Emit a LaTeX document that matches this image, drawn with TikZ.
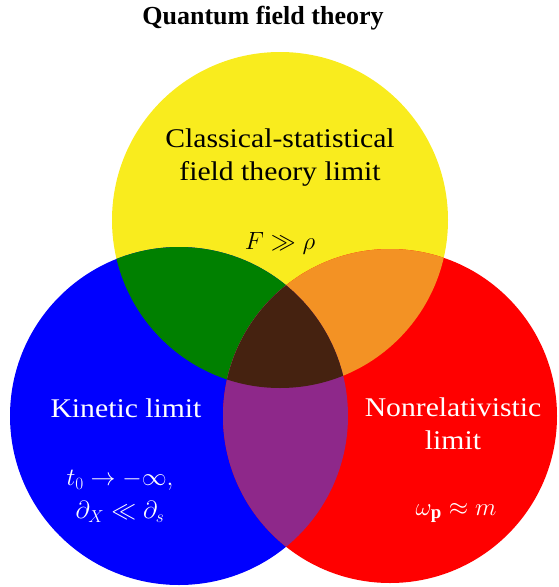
\documentclass[tikz,border=0pt]{standalone}
\usepackage{fontspec}
\setmainfont{Liberation Serif}
\newfontfamily\widefont[FakeStretch=1.1]{Liberation Serif}
\definecolor{cyel}{RGB}{249,236,30}
\definecolor{cblue}{RGB}{0,0,255}
\definecolor{cred}{RGB}{255,0,0}
\definecolor{cgreen}{RGB}{0,128,0}
\definecolor{corange}{RGB}{243,146,36}
\definecolor{cpurple}{RGB}{142,40,138}
\definecolor{cbrown}{RGB}{69,34,16}
\tikzset{
  lbl/.style={font=\widefont\fontsize{27}{33}\selectfont, align=center, inner sep=0pt},
  mth/.style={font=\fontsize{27}{33}\selectfont, align=center, inner sep=0pt},
}
\begin{document}
\begin{tikzpicture}[x=1pt,y=-1pt]
\useasboundingbox (0,0) rectangle (558,587);
\coordinate (Y) at (280,220);
\coordinate (B) at (179,416);
\coordinate (R) at (390,416);
\def\rY{168pt}\def\rB{169pt}\def\rR{167pt}
% base circles
\fill[cyel] (Y) circle[radius=\rY];
\fill[cblue] (B) circle[radius=\rB];
\fill[cred] (R) circle[radius=\rR];
% pairwise overlaps
\begin{scope}
  \clip (Y) circle[radius=\rY];
  \fill[cgreen] (B) circle[radius=\rB];
  \fill[corange] (R) circle[radius=\rR];
\end{scope}
\begin{scope}
  \clip (B) circle[radius=\rB];
  \fill[cpurple] (R) circle[radius=\rR];
  \clip (R) circle[radius=\rR];
  \fill[cbrown] (Y) circle[radius=\rY];
\end{scope}
% texts
\node[font=\fontsize{26}{30}\selectfont\bfseries, inner sep=0pt] (title) at (263,18) {Quantum field theory};
\node[lbl] (cs) at (280,158) {Classical-statistical\\field theory limit};
\node[mth] (csm) at (280,243) {$F \gg \rho$};
\node[lbl, text=white] (kin) at (126,408) {Kinetic limit};
\node[mth, text=white] (kinm) at (120,496) {$t_0 \to -\infty,$\\$\partial_X \ll \partial_s$};
\node[lbl, text=white] (nr) at (453,424) {Nonrelativistic\\limit};
\node[mth, text=white] (nrm) at (456,513) {$\omega_{\mathbf{p}} \approx m$};
\end{tikzpicture}
\end{document}
